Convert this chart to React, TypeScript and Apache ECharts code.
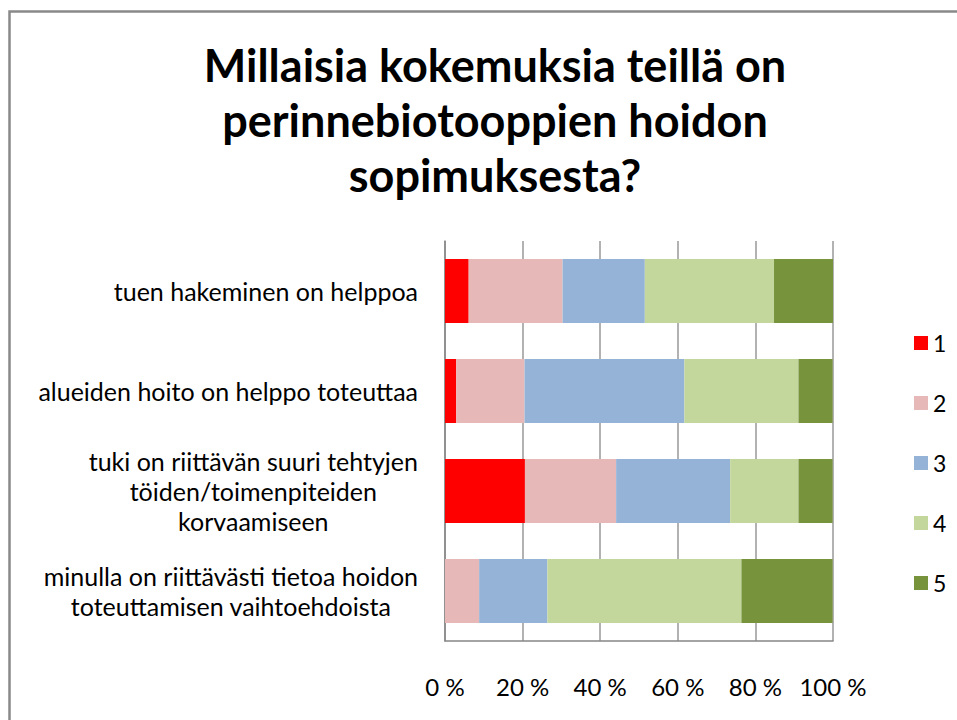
import React, { useEffect, useRef } from "react";
import * as echarts from "echarts";

const titleLines = ["Millaisia kokemuksia teillä on", "perinnebiotooppien hoidon", "sopimuksesta?"];
const categories = [
  "tuen hakeminen on helppoa",
  "alueiden hoito on helppo toteuttaa",
  "tuki on riittävän suuri tehtyjen\ntöiden/toimenpiteiden\nkorvaamiseen",
  "minulla on riittävästi tietoa hoidon\ntoteuttamisen vaihtoehdoista",
];
const seriesNames = ["1", "2", "3", "4", "5"];
// percentage shares per category (top to bottom)
const s1 = [6.1, 2.9, 20.6, 0];
const s2 = [24.2, 17.6, 23.5, 8.8];
const s3 = [21.2, 41.2, 29.4, 17.6];
const s4 = [33.3, 29.4, 17.6, 50.0];
const s5 = [15.2, 8.8, 8.8, 23.5];
const seriesValues = [s1, s2, s3, s4, s5];
const colors = ["#FF0000", "#E6B9B8", "#95B3D7", "#C3D69B", "#77933C"];
const xTicks = [0, 20, 40, 60, 80, 100];

const FONT = "Lato, 'Liberation Sans', sans-serif";

export default function App() {
  const ref = useRef<HTMLDivElement>(null);
  useEffect(() => {
    if (!ref.current) return;
    const chart = echarts.init(ref.current, undefined, { renderer: "svg" });
    chart.setOption({
      animation: false,
      backgroundColor: "#ffffff",
      title: {
        text: titleLines.join("\n"),
        left: 490,
        top: 32,
        textAlign: "center",
        textStyle: {
          fontFamily: FONT,
          fontWeight: "bold",
          fontSize: 45,
          lineHeight: 55,
          color: "#000000",
        },
      },
      legend: {
        orient: "vertical",
        left: 909,
        top: 326,
        itemWidth: 14,
        itemHeight: 14,
        itemGap: 36,
        icon: "rect",
        data: seriesNames,
        textStyle: { fontFamily: FONT, fontSize: 23, lineHeight: 24, color: "#000000" },
      },
      grid: { left: 445, right: 124, top: 241, bottom: 79, containLabel: false },
      xAxis: {
        type: "value",
        min: xTicks[0],
        max: xTicks[xTicks.length - 1],
        interval: 20,
        axisLine: { show: true, lineStyle: { color: "#868686", width: 1.5 } },
        axisTick: { show: false },
        splitLine: { show: true, lineStyle: { color: "#999999", width: 1.5 } },
        axisLabel: {
          margin: 33,
          fontFamily: FONT,
          fontSize: 24,
          color: "#000000",
          formatter: (v: number) => `${v} %`,
        },
      },
      yAxis: {
        type: "category",
        inverse: true,
        data: categories,
        axisLine: { show: true, lineStyle: { color: "#868686", width: 1.5 } },
        axisTick: { show: false },
        axisLabel: {
          margin: 27,
          align: "right",
          formatter: (v: string) =>
            v
              .split("\n")
              .map((l) => `{c|${l}}`)
              .join("\n"),
          rich: {
            c: {
              align: "center",
              fontFamily: FONT,
              fontSize: 25,
              lineHeight: 30,
              color: "#000000",
            },
          },
        },
      },
      graphic: [
        {
          type: "rect",
          shape: { x: 9.5, y: 11.5, width: 1000, height: 1000 },
          style: { fill: "none", stroke: "#898989", lineWidth: 2.5 },
          silent: true,
        },
      ],
      series: seriesNames.map((name, i) => ({
        name,
        type: "bar",
        stack: "total",
        barCategoryGap: "36%",
        data: seriesValues[i],
        itemStyle: { color: colors[i] },
      })),
    });
    return () => chart.dispose();
  }, []);
  return (
    <div
      ref={ref}
      style={{ position: "absolute", left: 0, top: 0, width: 957, height: 720 }}
    />
  );
}
